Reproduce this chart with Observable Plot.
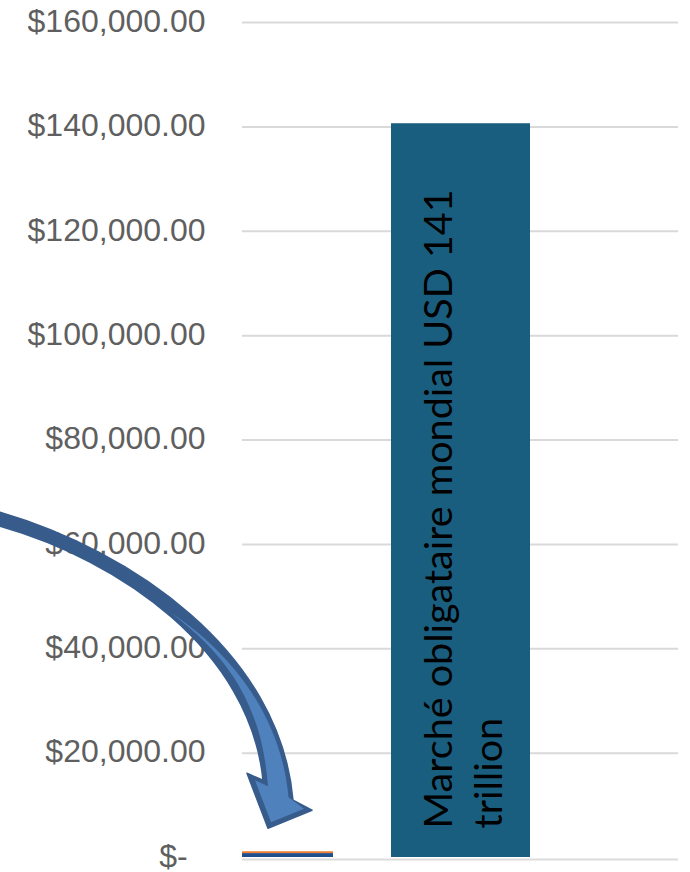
<!DOCTYPE html>
<html>
<head>
<meta charset="utf-8">
<script src="https://cdn.jsdelivr.net/npm/d3@7"></script>
<script src="https://cdn.jsdelivr.net/npm/@observablehq/plot@0.6"></script>
<style>
  html, body { margin: 0; padding: 0; background: #fff; }
  #chart svg { display: block; }
</style>
</head>
<body>
<div id="chart"></div>
<script>
// Categories (third slot is empty space in the original layout)
const categories = ["Obligations vertes", "Marché obligataire mondial", "·"];
// Small stacked bar (USD billions)
const smallSeries = ["Bleu", "Orange"];
const smallValues = [750, 350];
const smallColors = ["#1F4E8C", "#ED7D31"];
// Big bar
const bigValue = 140600;
const bigLabel = "Marché obligataire mondial USD 141\ntrillion";
// Axis ticks
const yTicks = [0, 20000, 40000, 60000, 80000, 100000, 120000, 140000, 160000];

const smallData = smallSeries.map((s, i) => ({cat: categories[0], series: s, value: smallValues[i]}));
const bigData = [{cat: categories[1], value: bigValue, label: bigLabel}];

const fmt = d3.format(",.2f");
const tickFormat = d => d === 0 ? "$-\u00a0\u00a0" : "$" + fmt(d);

// Decorative curved block arrow, shape defined relative to the top-left of the small bar
function arrowMark(index, scales) {
  const ox = scales.x(categories[0]) - 6;
  const oy = scales.y(smallValues[0] + smallValues[1]);
  const g = d3.create("svg:g").attr("transform", `translate(${ox - 242},${oy - 851})`);
  const outer = "M0,512 C130,550 280,650 293,800 L312,810 L268,828 L247,773 L263,780 C250,650 120,560 0,526 Z";
  g.append("path").attr("d", outer).attr("fill", "#375C8C").attr("stroke", "#375C8C").attr("stroke-width", 1.5).attr("stroke-linejoin", "round");
  const inner = "M170,612 C226,648 281,712 288.5,797 L304,808.5 L271,822 L255,780 L268,786 C262,705 228,655 170,612 Z";
  g.append("path").attr("d", inner).attr("fill", "#4F81BD");
  return g.node();
}

const plot = Plot.plot({
  width: 690,
  height: 872,
  marginTop: 22,
  marginBottom: 15,
  marginLeft: 242,
  marginRight: 12,
  style: {fontFamily: "'Liberation Sans', Arial, sans-serif", background: "#fff", overflow: "visible"},
  x: {type: "band", domain: categories, padding: 0.04, axis: null},
  y: {domain: [0, 160000], ticks: yTicks, tickFormat, label: null},
  marks: [
    Plot.ruleY(yTicks.slice(1), {stroke: "#d9d9d9", strokeWidth: 2}),
    Plot.ruleY([0], {stroke: "#dcdcdc", strokeWidth: 2, dy: 2}),
    Plot.axisY({ticks: yTicks, tickFormat, tickSize: 0, tickPadding: 37, fontSize: 32, fill: "#5f5f5f", label: null, dy: -1}),
    Plot.barY(smallData, {x: "cat", y: "value", fill: (d) => smallColors[smallSeries.indexOf(d.series)], insetLeft: -6, insetRight: 52}),
    Plot.barY(bigData, {x: "cat", y: "value", fill: "#1A5E7F", insetRight: -2}),
    Plot.text(bigData, {x: "cat", y: () => 5560, text: "label", rotate: -90, textAnchor: "start", lineAnchor: "middle", fontSize: 39.5, lineHeight: 1.27, fill: "#000", fontFamily: "Lato, 'Open Sans', sans-serif", dx: 1}),
    arrowMark
  ]
});

document.getElementById("chart").appendChild(plot);
</script>
</body>
</html>
